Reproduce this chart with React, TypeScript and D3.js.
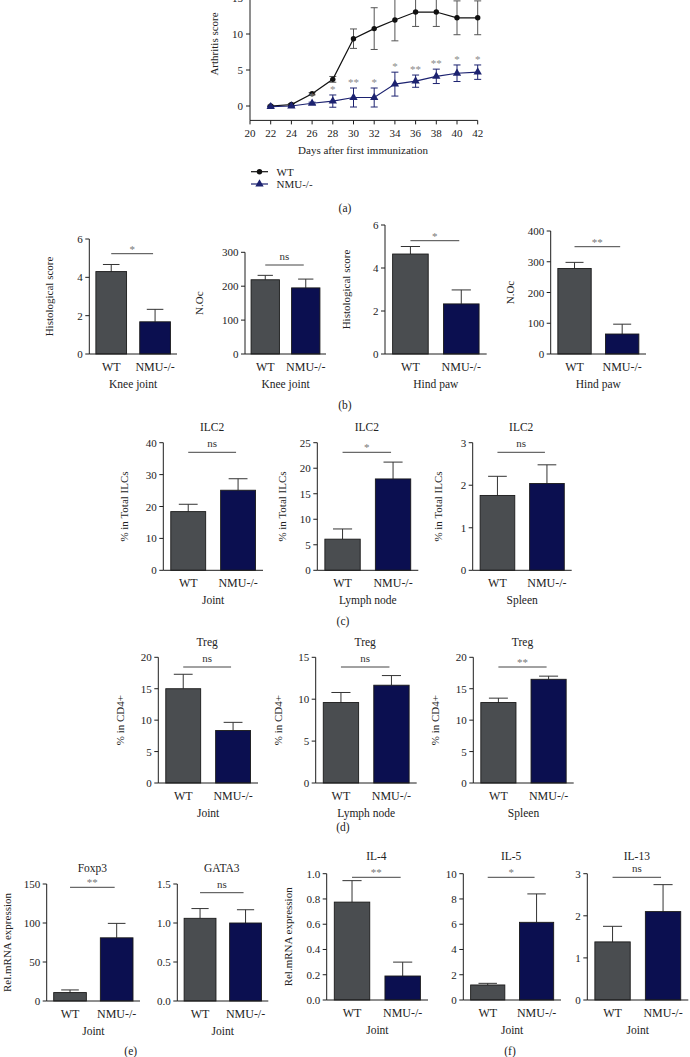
import React from "react";
import * as d3 from "d3";

// ---------- Panel (a) data ----------
const days = [22, 24, 26, 28, 30, 32, 34, 36, 38, 40, 42];
const wtScore = [0, 0.2, 1.7, 3.7, 9.35, 10.75, 11.95, 13.05, 13.05, 12.25, 12.25];
const wtErr = [0.1, 0.15, 0.15, 0.4, 1.35, 2.9, 2.9, 2.0, 2.0, 2.35, 2.35];
const nmuScore = [-0.1, 0, 0.38, 0.68, 1.18, 1.18, 3.04, 3.45, 4.12, 4.55, 4.7];
const nmuErr = [0.05, 0.1, 0.15, 0.85, 1.32, 1.32, 1.66, 0.85, 1.0, 1.15, 1.0];
const daySig = ["", "", "*", "*", "**", "*", "*", "**", "**", "*", "*"];
const dayTicks = [20, 22, 24, 26, 28, 30, 32, 34, 36, 38, 40, 42];
const scoreTicks = [0, 5, 10, 15];
const seriesNames = ["WT", "NMU-/-"];

// ---------- Bar panels data ----------
const groups = ["WT", "NMU-/-"];
const titles = ["", "", "", "", "ILC2", "ILC2", "ILC2", "Treg", "Treg", "Treg", "Foxp3", "GATA3", "IL-4", "IL-5", "IL-13"];
const tissues = ["Knee joint", "Knee joint", "Hind paw", "Hind paw", "Joint", "Lymph node", "Spleen", "Joint", "Lymph node", "Spleen", "Joint", "Joint", "Joint", "Joint", "Joint"];
const yLabels = ["Histological score", "N.Oc", "Histological score", "N.Oc", "% in Total ILCs", "% in Total ILCs", "% in Total ILCs", "% in CD4+", "% in CD4+", "% in CD4+", "Rel.mRNA expression", "", "Rel.mRNA expression", "", ""];
const wtMeans = [4.3, 219, 4.65, 278, 18.4, 6.1, 1.76, 15.0, 9.6, 12.8, 10.8, 1.06, 0.775, 1.19, 1.38];
const wtErrs = [0.37, 13, 0.35, 20, 2.3, 2.0, 0.45, 2.3, 1.2, 0.7, 3.4, 0.125, 0.17, 0.13, 0.37];
const nmuMeans = [1.68, 195, 2.33, 65, 25.1, 17.9, 2.04, 8.35, 11.67, 16.5, 81, 1.0, 0.19, 6.15, 2.1];
const nmuErrs = [0.65, 26, 0.65, 32, 3.6, 3.3, 0.44, 1.3, 1.15, 0.5, 18.5, 0.17, 0.11, 2.25, 0.64];
const yMaxes = [6, 300, 6, 400, 40, 25, 3, 20, 15, 20, 150, 1.5, 1.0, 10, 3];
const ySteps = [2, 100, 2, 100, 10, 5, 1, 5, 5, 5, 50, 0.5, 0.2, 2, 1];
const tickFormats = ["d", "d", "d", "d", "d", "d", "d", "d", "d", "d", "d", ".1f", ".1f", "d", "d"];
const sigLabels = ["*", "ns", "*", "**", "ns", "*", "ns", "ns", "ns", "**", "**", "ns", "**", "*", "ns"];

// ---------- Layout (positions only) ----------
const layout = [
  { x: 89.3, end: 177, y0: 354, top: 239, sigY: 253.7, ylx: 49.3, titleY: 0 },
  { x: 245, end: 326, y0: 354, top: 252.3, sigY: 265, ylx: 199.3, titleY: 0 },
  { x: 385, end: 486.7, y0: 354, top: 225, sigY: 240.7, ylx: 346, titleY: 0 },
  { x: 550.7, end: 646, y0: 354, top: 231, sigY: 246.7, ylx: 510, titleY: 0 },
  { x: 163.3, end: 263, y0: 570.3, top: 442.7, sigY: 452.3, ylx: 124.3, titleY: 426.7 },
  { x: 317.3, end: 418.3, y0: 570.3, top: 442.7, sigY: 452.3, ylx: 281.7, titleY: 426.7 },
  { x: 472.7, end: 571.7, y0: 570.3, top: 442.7, sigY: 452.3, ylx: 438.3, titleY: 426.7 },
  { x: 158.3, end: 258, y0: 783, top: 657.3, sigY: 667, ylx: 120, titleY: 641.7 },
  { x: 315.7, end: 416.7, y0: 783, top: 657.3, sigY: 667, ylx: 278.3, titleY: 641.7 },
  { x: 473.3, end: 573.7, y0: 783, top: 657.3, sigY: 667, ylx: 435, titleY: 641.7 },
  { x: 46.7, end: 140, y0: 1001, top: 884, sigY: 887.3, ylx: 6.7, titleY: 868.3 },
  { x: 177.3, end: 268.3, y0: 1001, top: 884, sigY: 892.7, ylx: 0, titleY: 868.3 },
  { x: 326.7, end: 428, y0: 1000, top: 873.7, sigY: 877.3, ylx: 288.3, titleY: 856 },
  { x: 463.3, end: 561, y0: 1000, top: 873.7, sigY: 877.3, ylx: 0, titleY: 856 },
  { x: 587.3, end: 688.3, y0: 1000, top: 873.7, sigY: 877.3, ylx: 0, titleY: 856 },
];

const panelLetters = ["(a)", "(b)", "(c)", "(d)", "(e)", "(f)"];
const letterPos = [
  [345, 212], [345, 409], [343, 625], [343, 830.7], [130.7, 1055], [510, 1055],
];

const FONT = "'Liberation Serif', 'Times New Roman', 'DejaVu Serif', serif";
const TXT = "#222";
const AX = "#1e1e1e";
const WT_FILL = "#4a4d50";
const NMU_FILL = "#0b0f50";
const NMU_LINE = "#1c2270";

function LineChart() {
  const x = d3.scaleLinear().domain([20, 42]).range([250, 477.7]);
  const y = d3.scaleLinear().domain([0, 15]).range([106, -2]);
  const yBottom = y(-2);
  const wtPts = days.map((d, i) => [x(d), y(wtScore[i])] as [number, number]);
  const nmuPts = days.map((d, i) => [x(d), y(nmuScore[i])] as [number, number]);
  const line = d3.line();
  const tri = d3.symbol().type(d3.symbolTriangle).size(30)();
  const cap = 3.5;
  return (
    <g>
      <line x1={x(20)} x2={x(20)} y1={yBottom} y2={y(15)} stroke={AX} strokeWidth={1} />
      <line x1={x(20)} x2={x(42)} y1={yBottom} y2={yBottom} stroke={AX} strokeWidth={1} />
      {scoreTicks.map((t) => (
        <g key={"yt" + t}>
          <line x1={x(20) - 4} x2={x(20)} y1={y(t)} y2={y(t)} stroke={AX} />
          <text x={x(20) - 7} y={y(t) + 4} textAnchor="end" fontSize={11} fill={TXT}>{t}</text>
        </g>
      ))}
      {dayTicks.map((t) => (
        <g key={"xt" + t}>
          <line x1={x(t)} x2={x(t)} y1={yBottom} y2={yBottom + 4} stroke={AX} />
          <text x={x(t)} y={yBottom + 17} textAnchor="middle" fontSize={11} fill={TXT}>{t}</text>
        </g>
      ))}
      <text x={363} y={154} textAnchor="middle" fontSize={11} fill={TXT}>Days after first immunization</text>
      <text transform={`translate(214,44) rotate(-90)`} textAnchor="middle" dominantBaseline="central" fontSize={11} fill={TXT}>Arthritis score</text>

      {days.map((d, i) => (
        <g key={"we" + d} stroke="#555" strokeWidth={1}>
          <line x1={x(d)} x2={x(d)} y1={y(wtScore[i] - wtErr[i])} y2={y(wtScore[i] + wtErr[i])} />
          <line x1={x(d) - cap} x2={x(d) + cap} y1={y(wtScore[i] - wtErr[i])} y2={y(wtScore[i] - wtErr[i])} />
          <line x1={x(d) - cap} x2={x(d) + cap} y1={y(wtScore[i] + wtErr[i])} y2={y(wtScore[i] + wtErr[i])} />
        </g>
      ))}
      {days.map((d, i) => (
        <g key={"ne" + d} stroke={NMU_LINE} strokeWidth={1}>
          <line x1={x(d)} x2={x(d)} y1={y(nmuScore[i] - nmuErr[i])} y2={y(nmuScore[i] + nmuErr[i])} />
          <line x1={x(d) - cap} x2={x(d) + cap} y1={y(nmuScore[i] - nmuErr[i])} y2={y(nmuScore[i] - nmuErr[i])} />
          <line x1={x(d) - cap} x2={x(d) + cap} y1={y(nmuScore[i] + nmuErr[i])} y2={y(nmuScore[i] + nmuErr[i])} />
        </g>
      ))}
      <path d={line(wtPts) || ""} fill="none" stroke="#111" strokeWidth={1.2} />
      <path d={line(nmuPts) || ""} fill="none" stroke={NMU_LINE} strokeWidth={1.2} />
      {wtPts.map((p, i) => (
        <circle key={"wc" + i} cx={p[0]} cy={p[1]} r={2.7} fill="#111" />
      ))}
      {nmuPts.map((p, i) => (
        <path key={"nt" + i} d={tri || ""} transform={`translate(${p[0]},${p[1]})`} fill={NMU_LINE} />
      ))}
      {days.map((d, i) =>
        daySig[i] ? (
          <text key={"s" + d} x={x(d)} y={y(nmuScore[i] + nmuErr[i]) - 2} textAnchor="middle" fontSize={11} fill="#8a8a8a">{daySig[i]}</text>
        ) : null
      )}
      {seriesNames.map((s, i) => {
        const ly = 171.7 + i * 12.3;
        return (
          <g key={"lg" + s}>
            <line x1={251} x2={268} y1={ly} y2={ly} stroke={i === 0 ? "#111" : NMU_LINE} strokeWidth={1.2} />
            {i === 0 ? (
              <circle cx={259.5} cy={ly} r={2.7} fill="#111" />
            ) : (
              <path d={tri || ""} transform={`translate(259.5,${ly})`} fill={NMU_LINE} />
            )}
            <text x={276.5} y={ly + 4} fontSize={11} fill={TXT}>{s}</text>
          </g>
        );
      })}
    </g>
  );
}

function BarChart({ i }: { i: number }) {
  const L = layout[i];
  const y = d3.scaleLinear().domain([0, yMaxes[i]]).range([L.y0, L.top]);
  const x = d3.scaleBand().domain(groups).range([L.x, L.end]).paddingInner(0.3).paddingOuter(0.15);
  const bw = x.bandwidth();
  const ticks = d3.range(0, yMaxes[i] + ySteps[i] / 2, ySteps[i]);
  const fmt = d3.format(tickFormats[i]);
  const means = [wtMeans[i], nmuMeans[i]];
  const errs = [wtErrs[i], nmuErrs[i]];
  const fills = [WT_FILL, NMU_FILL];
  const mid = (L.x + L.end) / 2;
  const sx1 = (x("WT") as number) + bw / 2;
  const sx2 = (x("NMU-/-") as number) + bw / 2 - 2;
  const sig = sigLabels[i];
  return (
    <g>
      {groups.map((g, k) => {
        const bx = x(g) as number;
        const cx = bx + bw / 2;
        const top = y(means[k]);
        const et = y(means[k] + errs[k]);
        return (
          <g key={g}>
            <line x1={cx} x2={cx} y1={top} y2={et} stroke="#333" strokeWidth={1} />
            <line x1={cx - bw * 0.27} x2={cx + bw * 0.27} y1={et} y2={et} stroke="#333" strokeWidth={1} />
            <rect x={bx} y={top} width={bw} height={L.y0 - top} fill={fills[k]} stroke="#1a1a1a" strokeWidth={0.9} />
            <text x={cx} y={L.y0 + 17} textAnchor="middle" fontSize={12} fill={TXT}>{g}</text>
          </g>
        );
      })}
      <line x1={L.x} x2={L.x} y1={L.y0} y2={L.top} stroke={AX} strokeWidth={1} />
      <line x1={L.x} x2={L.end} y1={L.y0} y2={L.y0} stroke={AX} strokeWidth={1} />
      {ticks.map((t) => (
        <g key={"t" + t}>
          <line x1={L.x - 4} x2={L.x} y1={y(t)} y2={y(t)} stroke={AX} />
          <text x={L.x - 6.5} y={y(t) + 4} textAnchor="end" fontSize={11} fill={TXT}>{fmt(t)}</text>
        </g>
      ))}
      <text x={mid} y={L.y0 + 34} textAnchor="middle" fontSize={11.5} fill={TXT}>{tissues[i]}</text>
      {titles[i] ? (
        <text x={mid - 1} y={L.titleY + 4} textAnchor="middle" fontSize={11.5} fill={TXT}>{titles[i]}</text>
      ) : null}
      {yLabels[i] ? (
        <text transform={`translate(${L.ylx},${(L.y0 + L.top) / 2}) rotate(-90)`} textAnchor="middle" dominantBaseline="central" fontSize={11} fill={TXT}>{yLabels[i]}</text>
      ) : null}
      <line x1={sx1} x2={sx2} y1={L.sigY} y2={L.sigY} stroke="#444" strokeWidth={1} />
      <text x={(sx1 + sx2) / 2} y={L.sigY - (sig === "ns" ? 5 : 1)} textAnchor="middle" fontSize={11} fill={sig === "ns" ? "#333" : "#777"}>{sig}</text>
    </g>
  );
}

export default function App() {
  return (
    <svg width={690} height={1057} viewBox="0 0 690 1057" style={{ position: "absolute", left: 0, top: 0, background: "#fff" }} fontFamily={FONT}>
      <rect width={690} height={1057} fill="#fff" />
      <LineChart />
      {layout.map((_, i) => (
        <BarChart key={i} i={i} />
      ))}
      {panelLetters.map((t, i) => (
        <text key={t} x={letterPos[i][0]} y={letterPos[i][1]} textAnchor="middle" fontSize={11.5} fill={TXT}>{t}</text>
      ))}
    </svg>
  );
}
